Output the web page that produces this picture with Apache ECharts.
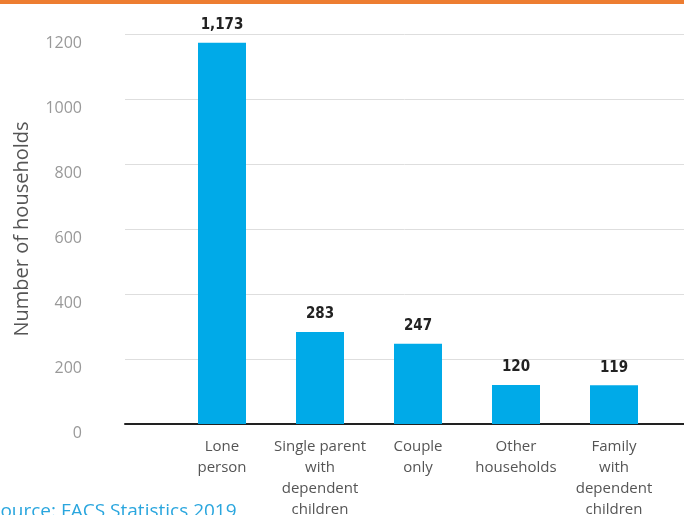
<!DOCTYPE html>
<html>
<head>
<meta charset="utf-8">
<script src="https://cdn.jsdelivr.net/npm/echarts@6/dist/echarts.min.js"></script>
<style>
  html, body { margin: 0; padding: 0; background: #fff; }
  #chart { width: 684px; height: 515px; }
</style>
</head>
<body>
<div id="chart"></div>
<script>
// household types and counts
const categories = [
  'Lone\nperson',
  'Single parent\nwith\ndependent\nchildren',
  'Couple\nonly',
  'Other\nhouseholds',
  'Family\nwith\ndependent\nchildren'
]
const households = [1173, 283, 247, 120, 119]
const yTicks = { min: 0, max: 1200, interval: 200 }

const myChart = echarts.init(document.getElementById('chart'))
const option = {
  animation: false,
  grid: [
    // wide grid: gridlines + baseline
    { left: 125, right: 0, top: 34, bottom: 91, outerBoundsMode: 'none' },
    // bars
    { left: 173, right: 21, top: 34, bottom: 91, outerBoundsMode: 'none' }
  ],
  xAxis: [
    {
      gridIndex: 0,
      type: 'value',
      min: 0,
      max: 1,
      axisLine: { show: true, lineStyle: { color: '#222', width: 2 } },
      axisTick: { show: false },
      axisLabel: { show: false },
      splitLine: { show: false }
    },
    {
      gridIndex: 1,
      type: 'category',
      data: categories,
      axisLine: { show: false },
      axisTick: { show: false },
      axisLabel: {
        interval: 0,
        margin: 12,
        color: '#555',
        fontSize: 15,
        lineHeight: 21,
        fontFamily: 'Open Sans'
      }
    }
  ],
  yAxis: [
    {
      gridIndex: 0,
      type: 'value',
      min: yTicks.min,
      max: yTicks.max,
      interval: yTicks.interval,
      name: 'Number of households',
      nameLocation: 'middle',
      nameGap: 93,
      nameTextStyle: { color: '#555', fontSize: 20, fontFamily: 'Open Sans' },
      axisLine: { show: false },
      axisTick: { show: false },
      axisLabel: {
        margin: 43,
        color: '#999',
        fontSize: 16,
        fontFamily: 'Open Sans',
        verticalAlign: 'top',
        lineHeight: 18,
        formatter: (v) => String(v)
      },
      splitLine: { lineStyle: { color: '#dedede', width: 1 } }
    },
    {
      gridIndex: 1,
      type: 'value',
      min: yTicks.min,
      max: yTicks.max,
      interval: yTicks.interval,
      show: false,
      splitLine: { show: false }
    }
  ],
  series: [{
    type: 'bar',
    xAxisIndex: 1,
    yAxisIndex: 1,
    data: households,
    barWidth: 48,
    itemStyle: { color: '#00AAE8' },
    label: {
      show: true,
      position: 'top',
      distance: 10,
      color: '#222',
      fontSize: 15,
      fontWeight: 'bold',
      fontFamily: "'Liberation Sans Narrow', 'DejaVu Sans Condensed', sans-serif",
      formatter: (p) => p.value.toLocaleString('en-US')
    }
  }],
  graphic: [
    {
      type: 'rect',
      left: 0,
      top: 0,
      shape: { width: 684, height: 4 },
      style: { fill: '#ED7D31' }
    },
    {
      type: 'text',
      left: -10,
      top: 502,
      style: {
        text: 'Source: FACS Statistics 2019',
        fill: '#2AA6DE',
        fontSize: 19,
        fontFamily: 'Open Sans'
      }
    }
  ]
}
myChart.setOption(option)
</script>
</body>
</html>
